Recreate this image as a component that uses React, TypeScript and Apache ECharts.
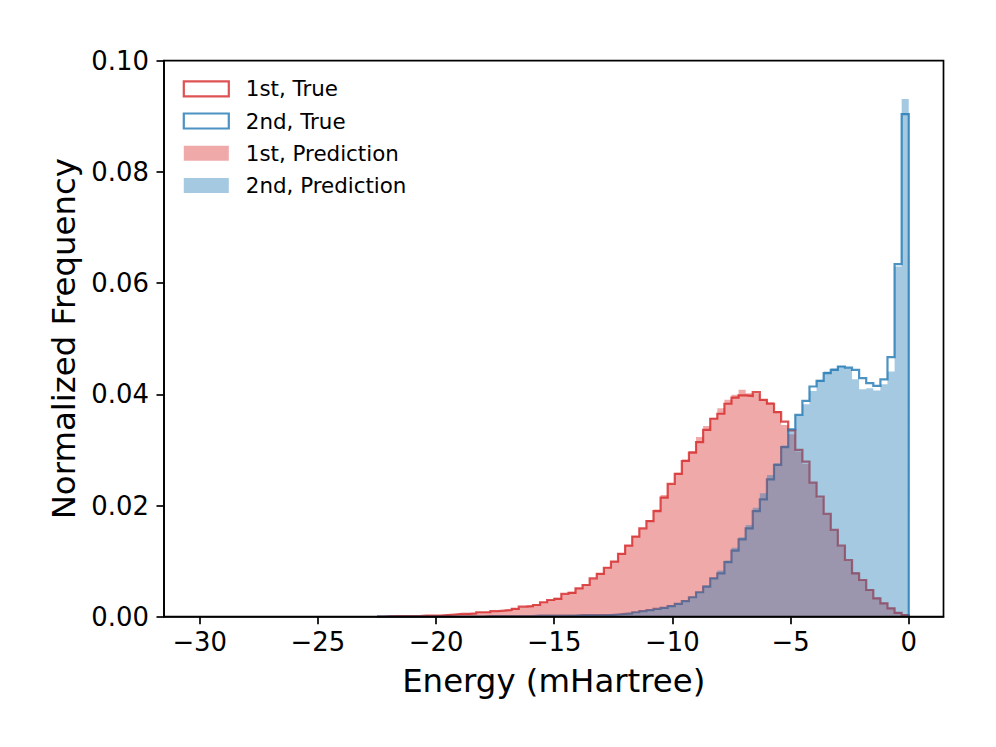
import React, { useEffect, useRef } from "react";
import * as echarts from "echarts";

// Histogram bins: 100 bins of width 0.3 from -30 to 0; listed values start at bin 25
const BIN_START = -30;
const BIN_WIDTH = 0.3;
const FIRST_BIN = 25;

const firstTrue = [
  0.0000, 0.0001, 0.0001, 0.0001, 0.0001, 0.0001, 0.0002, 0.0002, 0.0002, 0.0003,
  0.0004, 0.0005, 0.0005, 0.0006, 0.0008, 0.0008, 0.0010, 0.0011, 0.0012, 0.0014,
  0.0018, 0.0019, 0.0021, 0.0026, 0.0030, 0.0032, 0.0041, 0.0043, 0.0051, 0.0057,
  0.0069, 0.0077, 0.0088, 0.0099, 0.0113, 0.0128, 0.0144, 0.0159, 0.0172, 0.0190,
  0.0214, 0.0239, 0.0257, 0.0280, 0.0295, 0.0314, 0.0336, 0.0356, 0.0365, 0.0383,
  0.0394, 0.0398, 0.0397, 0.0404, 0.0390, 0.0383, 0.0368, 0.0351, 0.0335, 0.0300,
  0.0279, 0.0241, 0.0216, 0.0185, 0.0156, 0.0128, 0.0102, 0.0078, 0.0066, 0.0048,
  0.0033, 0.0024, 0.0015, 0.0007, 0.0003,
];

const secondTrue = [
  0.0000, 0.0000, 0.0000, 0.0000, 0.0000, 0.0000, 0.0000, 0.0000, 0.0000, 0.0000,
  0.0000, 0.0000, 0.0000, 0.0000, 0.0000, 0.0001, 0.0001, 0.0001, 0.0001, 0.0001,
  0.0001, 0.0001, 0.0002, 0.0002, 0.0002, 0.0002, 0.0002, 0.0002, 0.0003, 0.0003,
  0.0003, 0.0003, 0.0003, 0.0004, 0.0005, 0.0006, 0.0008, 0.0010, 0.0012, 0.0014,
  0.0016, 0.0019, 0.0023, 0.0028, 0.0035, 0.0044, 0.0054, 0.0069, 0.0078, 0.0098,
  0.0119, 0.0139, 0.0159, 0.0190, 0.0211, 0.0247, 0.0273, 0.0305, 0.0337, 0.0363,
  0.0388, 0.0414, 0.0424, 0.0438, 0.0444, 0.0450, 0.0448, 0.0444, 0.0429, 0.0420,
  0.0415, 0.0427, 0.0467, 0.0634, 0.0904,
];

const firstPrediction = [
  0.0001, 0.0001, 0.0002, 0.0002, 0.0002, 0.0002, 0.0003, 0.0003, 0.0003, 0.0004,
  0.0004, 0.0005, 0.0006, 0.0006, 0.0008, 0.0009, 0.0010, 0.0011, 0.0013, 0.0015,
  0.0017, 0.0020, 0.0022, 0.0026, 0.0030, 0.0034, 0.0040, 0.0045, 0.0051, 0.0058,
  0.0068, 0.0078, 0.0089, 0.0100, 0.0114, 0.0129, 0.0145, 0.0158, 0.0174, 0.0193,
  0.0219, 0.0238, 0.0259, 0.0283, 0.0298, 0.0323, 0.0343, 0.0358, 0.0375, 0.0390,
  0.0399, 0.0408, 0.0402, 0.0401, 0.0391, 0.0386, 0.0370, 0.0345, 0.0328, 0.0297,
  0.0275, 0.0240, 0.0213, 0.0183, 0.0154, 0.0126, 0.0100, 0.0080, 0.0066, 0.0049,
  0.0034, 0.0025, 0.0016, 0.0008, 0.0004,
];

const secondPrediction = [
  0.0000, 0.0000, 0.0000, 0.0000, 0.0000, 0.0000, 0.0000, 0.0000, 0.0000, 0.0000,
  0.0000, 0.0000, 0.0000, 0.0000, 0.0000, 0.0001, 0.0001, 0.0001, 0.0001, 0.0001,
  0.0001, 0.0001, 0.0002, 0.0002, 0.0002, 0.0002, 0.0002, 0.0003, 0.0003, 0.0003,
  0.0003, 0.0003, 0.0004, 0.0004, 0.0005, 0.0006, 0.0008, 0.0010, 0.0012, 0.0014,
  0.0017, 0.0020, 0.0024, 0.0029, 0.0036, 0.0045, 0.0056, 0.0070, 0.0083, 0.0101,
  0.0124, 0.0143, 0.0165, 0.0196, 0.0222, 0.0255, 0.0276, 0.0308, 0.0334, 0.0362,
  0.0382, 0.0406, 0.0426, 0.0441, 0.0447, 0.0451, 0.0447, 0.0427, 0.0409, 0.0411,
  0.0407, 0.0418, 0.0441, 0.0630, 0.0931,
];

const xTicks = [-30, -25, -20, -15, -10, -5, 0];
const seriesNames = ["1st, True", "2nd, True", "1st, Prediction", "2nd, Prediction"];

const FONT = "DejaVu Sans";
const RED_LINE = "rgba(214,39,40,0.8)";
const BLUE_LINE = "rgba(31,119,180,0.8)";
const RED_FILL = "rgba(214,39,40,0.4)";
const BLUE_FILL = "rgba(31,119,180,0.4)";

function stepPoints(values: number[]): [number, number][] {
  const pts: [number, number][] = [];
  const e0 = BIN_START + FIRST_BIN * BIN_WIDTH;
  pts.push([e0, 0]);
  values.forEach((v, i) => pts.push([BIN_START + (FIRST_BIN + i) * BIN_WIDTH, v]));
  const eEnd = BIN_START + (FIRST_BIN + values.length) * BIN_WIDTH;
  pts.push([eEnd, values[values.length - 1]]);
  pts.push([eEnd, 0]);
  return pts;
}

const fmtMinus = (v: number) => (v < 0 ? "\u2212" + Math.abs(v) : String(v));

export default function App() {
  const ref = useRef<HTMLDivElement>(null);
  useEffect(() => {
    if (!ref.current) return;
    const chart = echarts.init(ref.current, null, { renderer: "svg" });
    const outline = (name: string, vals: number[], color: string) => ({
      name,
      type: "line",
      step: "end",
      data: stepPoints(vals),
      symbol: "none",
      lineStyle: { color, width: 2.2, join: "miter" },
      itemStyle: { color },
      z: 2,
    });
    const filled = (name: string, vals: number[], color: string) => ({
      name,
      type: "line",
      step: "end",
      data: stepPoints(vals),
      symbol: "none",
      lineStyle: { width: 0, opacity: 0 },
      itemStyle: { color },
      areaStyle: { color, opacity: 1 },
      z: 3,
    });
    chart.setOption({
      animation: false,
      backgroundColor: "#fff",
      textStyle: { fontFamily: FONT },
      grid: {
        left: 164,
        right: 52.5,
        top: 60.7,
        bottom: 130.3,
        show: true,
        borderColor: "#000",
        borderWidth: 1.7,
        backgroundColor: "transparent",
        z: 10,
      },
      legend: {
        orient: "vertical",
        left: 182.7,
        top: 78.3,
        padding: 0,
        itemWidth: 45,
        itemHeight: 15,
        itemGap: 11.2,
        textStyle: { fontSize: 21.4, color: "#000", fontFamily: FONT, padding: [0, 0, 0, 12] },
        data: [
          { name: seriesNames[0], icon: "rect", itemStyle: { color: "rgba(255,255,255,0)", borderColor: RED_LINE, borderWidth: 2.2 } },
          { name: seriesNames[1], icon: "rect", itemStyle: { color: "rgba(255,255,255,0)", borderColor: BLUE_LINE, borderWidth: 2.2 } },
          { name: seriesNames[2], icon: "rect", itemStyle: { color: RED_FILL, borderWidth: 0 } },
          { name: seriesNames[3], icon: "rect", itemStyle: { color: BLUE_FILL, borderWidth: 0 } },
        ],
      },
      xAxis: {
        type: "value",
        min: -31.51,
        max: 1.47,
        name: "Energy (mHartree)",
        nameLocation: "middle",
        nameGap: 48,
        nameTextStyle: { fontSize: 32.4, color: "#000", fontFamily: FONT },
        axisLine: { show: true, onZero: false, lineStyle: { color: "#000", width: 1.7 } },
        axisTick: { show: true, length: 7.5, lineStyle: { color: "#000", width: 1.7 }, customValues: xTicks },
        axisLabel: { fontSize: 25.9, color: "#000", fontFamily: FONT, margin: 12, formatter: fmtMinus, customValues: xTicks },
        splitLine: { show: false },
        z: 10,
      },
      yAxis: {
        type: "value",
        min: 0,
        max: 0.1,
        interval: 0.02,
        name: "Normalized Frequency",
        nameLocation: "middle",
        nameGap: 82,
        nameTextStyle: { fontSize: 32.4, color: "#000", fontFamily: FONT },
        axisLine: { show: true, onZero: false, lineStyle: { color: "#000", width: 1.7 } },
        axisTick: { show: true, length: 7.5, lineStyle: { color: "#000", width: 1.7 } },
        axisLabel: { fontSize: 25.9, color: "#000", fontFamily: FONT, margin: 15, formatter: (v: number) => v.toFixed(2) },
        splitLine: { show: false },
        z: 10,
      },
      series: [
        outline(seriesNames[0], firstTrue, RED_LINE),
        outline(seriesNames[1], secondTrue, BLUE_LINE),
        filled(seriesNames[2], firstPrediction, RED_FILL),
        filled(seriesNames[3], secondPrediction, BLUE_FILL),
      ],
    });
    return () => chart.dispose();
  }, []);
  return (
    <div
      ref={ref}
      style={{ position: "fixed", left: 0, top: 0, width: 996, height: 747 }}
    />
  );
}
